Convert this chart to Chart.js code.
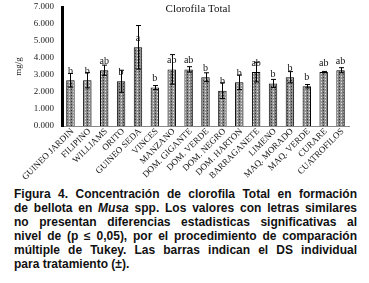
<!DOCTYPE html>
<html lang="es">
<head>
  <meta charset="UTF-8">
  <title>Clorofila Total</title>
  <script src="https://cdn.jsdelivr.net/npm/chart.js"></script>
  <style>
    body {
      margin: 0;
      background: #ffffff;
      width: 369px;
      height: 283px;
      overflow: hidden;
    }
    #wrap {
      width: 369px;
      height: 185px;
    }
    .caption {
      margin: 2px 0 0 14px;
      width: 343px;
      font-family: "Liberation Sans", Arial, sans-serif;
      font-weight: bold;
      font-size: 12px;
      line-height: 14px;
      color: #111;
    }
    .caption div {
      white-space: nowrap;
      text-align: justify;
      text-align-last: justify;
    }
    .caption div.last {
      text-align-last: left;
    }
  </style>
</head>
<body>
<div id="wrap"><canvas id="chartCanvas" width="369" height="185"></canvas></div>
<div class="caption">
  <div>Figura 4. Concentración de clorofila Total en formación</div>
  <div>de bellota en <i>Musa</i> spp. Los valores con letras similares</div>
  <div>no presentan diferencias estadisticas significativas al</div>
  <div>nivel de (p ≤ 0,05), por el procedimiento de comparación</div>
  <div>múltiple de Tukey. Las barras indican el DS individual</div>
  <div class="last">para tratamiento (±).</div>
</div>

<script>
  // Datos
  const variedades = ['GUINEO JARDIN', 'FILIPINO', 'WILLIAMS', 'ORITO', 'GUINEO SEDA', 'VINCES', 'MANZANO',
    'DOM. GIGANTE', 'DOM. VERDE', 'DOM. NEGRO', 'DOM. HARTON', 'BARRAGANETE', 'LIMENO', 'MAQ. MORADO',
    'MAQ. VERDE', 'CURARE', 'CUATROFILOS'];
  const clorofila = [2.69, 2.69, 3.28, 2.63, 4.63, 2.26, 3.33, 3.33, 2.87, 2.08, 2.57, 3.17, 2.50, 2.87, 2.34, 3.17, 3.28];
  const desviacion = [0.40, 0.45, 0.30, 0.65, 1.28, 0.12, 0.87, 0.16, 0.26, 0.46, 0.43, 0.58, 0.24, 0.33, 0.10, 0.04, 0.15];
  const letras = ['b', 'b', 'ab', 'b', 'a', 'b', 'ab', 'ab', 'b', 'b', 'b', 'ab', 'b', 'b', 'b', 'ab', 'ab'];
  const titulo = 'Clorofila Total';

  const serif = '"Liberation Serif", "Times New Roman", serif';

  // Patrón punteado de las barras
  function patronBarra() {
    const c = document.createElement('canvas');
    c.width = 4;
    c.height = 3;
    const g = c.getContext('2d');
    g.fillStyle = '#828282';
    g.fillRect(0, 0, 4, 3);
    g.fillStyle = '#969696';
    g.fillRect(0, 0, 2, 3);
    g.fillStyle = '#e6e6e6';
    g.fillRect(1, 1, 1, 1);
    g.fillStyle = '#333333';
    g.fillRect(3, 2, 1, 1);
    return c.getContext('2d').createPattern(c, 'repeat');
  }

  // Barras de error, letras de Tukey, etiquetas del eje x y título
  const extras = {
    id: 'extras',
    afterDatasetsDraw(chart) {
      const ctx = chart.ctx;
      const y = chart.scales.y;
      const x = chart.scales.x;
      const meta = chart.getDatasetMeta(0);
      ctx.save();
      ctx.strokeStyle = '#000';
      ctx.lineWidth = 1;
      meta.data.forEach((bar, i) => {
        const bx = Math.round(bar.x) + 0.5;
        const yTop = y.getPixelForValue(clorofila[i] + desviacion[i]);
        const yBot = y.getPixelForValue(clorofila[i] - desviacion[i]);
        ctx.beginPath();
        ctx.moveTo(bx, yTop);
        ctx.lineTo(bx, yBot);
        ctx.moveTo(bx - 2.5, yTop);
        ctx.lineTo(bx + 2.5, yTop);
        ctx.moveTo(bx - 2.5, yBot);
        ctx.lineTo(bx + 2.5, yBot);
        ctx.stroke();
      });
      ctx.fillStyle = '#111';
      ctx.font = '10px ' + serif;
      ctx.textAlign = 'center';
      ctx.textBaseline = 'middle';
      meta.data.forEach((bar, i) => {
        ctx.fillText(letras[i], bar.x, bar.y - 9);
      });
      ctx.font = '11px ' + serif;
      ctx.fillText(titulo, 198, 9);

      // etiquetas giradas 45°
      ctx.font = '9px ' + serif;
      ctx.textAlign = 'right';
      ctx.textBaseline = 'middle';
      variedades.forEach((v, i) => {
        ctx.save();
        ctx.translate(x.getPixelForValue(i) + 2, x.bottom - 55);
        ctx.rotate(-Math.PI / 4);
        ctx.fillText(v, 0, 0);
        ctx.restore();
      });
      ctx.restore();
    }
  };

  new Chart(document.getElementById('chartCanvas'), {
    type: 'bar',
    data: {
      labels: variedades,
      datasets: [{
        data: clorofila,
        backgroundColor: patronBarra(),
        borderColor: '#000',
        borderWidth: 1,
        barPercentage: 0.5,
        categoryPercentage: 1
      }]
    },
    options: {
      responsive: false,
      animation: false,
      layout: {
        padding: { top: 7, right: 20, left: 0, bottom: 0 }
      },
      plugins: {
        legend: { display: false },
        tooltip: { enabled: false }
      },
      scales: {
        x: {
          grid: { display: false, drawTicks: false },
          border: { color: '#8a8a8a', width: 1 },
          ticks: { display: false },
          afterFit(scale) {
            scale.height = 59;
            scale.paddingLeft = 0;
            scale.paddingRight = 0;
          }
        },
        y: {
          min: 0,
          max: 7,
          grid: { display: false, drawTicks: false },
          border: { color: '#000', width: 3 },
          ticks: {
            stepSize: 1,
            padding: 8,
            color: '#222',
            font: { family: serif, size: 9 },
            callback: v => v.toFixed(3)
          },
          title: {
            display: true,
            text: 'mg/g',
            color: '#222',
            padding: { top: 13, bottom: 0 },
            font: { family: serif, size: 9 }
          },
          afterFit(scale) {
            scale.width = 62;
            scale.paddingTop = 0;
            scale.paddingBottom = 0;
          }
        }
      }
    },
    plugins: [extras]
  });
</script>
</body>
</html>
